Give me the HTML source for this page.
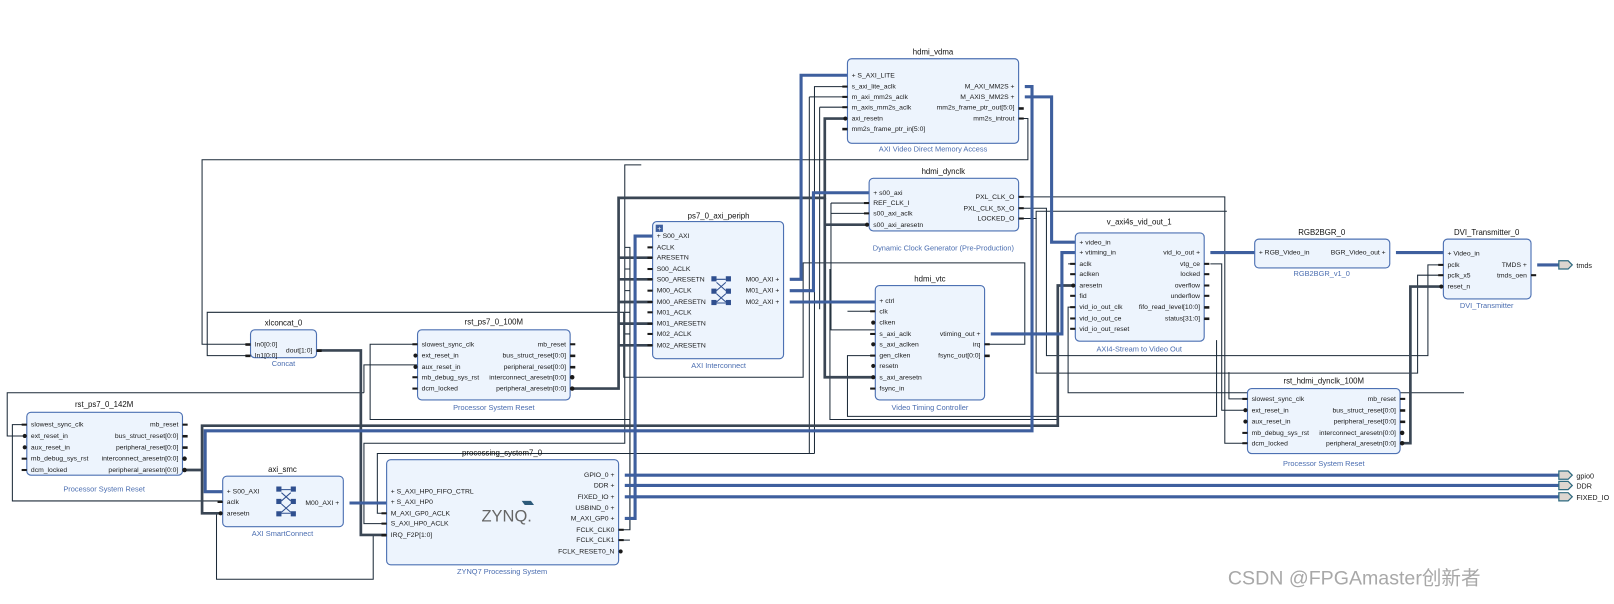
<!DOCTYPE html>
<html><head><meta charset="utf-8"><style>
html,body{margin:0;padding:0;background:#fff;width:1614px;height:604px;overflow:hidden}
svg{display:block}
text{font-family:"Liberation Sans",sans-serif}
.t{font-size:7.6px;fill:#111;text-anchor:middle}
.s{font-size:7.2px;fill:#4a6db0;text-anchor:middle}
.p{font-size:6.6px;fill:#1a1a1a}
.r{font-size:6.6px;fill:#1a1a1a;text-anchor:end}
.b{fill:#edf4fd;stroke:#4d71b3;stroke-width:1.1}
.w{fill:none;stroke:#1c2a38;stroke-width:1}
.k{fill:none;stroke:#3a4654;stroke-width:2.6}
.bus{fill:none;stroke:#3e5f9e;stroke-width:3}
.pl{fill:#1a1a1a}
.x{fill:none;stroke:#2f4f8f;stroke-width:1}
</style></head><body>
<svg width="1614" height="604" viewBox="0 0 1565.5 586" preserveAspectRatio="none" xmlns="http://www.w3.org/2000/svg">

<!-- thin wires -->
<g class="w">
<path d="M988,115 H997 V155 H196 V334 H243"/>
<path d="M243,345 H201 V303 H605 V366 H779 V255 H994 V334 H955"/>
<path d="M26,412 H12 V486 H216"/>
<path d="M26,423 H7 V381 H353"/>
<path d="M353,381 V354 H405"/>
<path d="M405,334 H359 V407 H611"/>
<path d="M611,407 V514 H600"/>
<path d="M606,240 H611 V514"/>
<path d="M606,261 H611 M606,282 H611 M606,303 H611 M606,324 H611"/>
<path d="M600,524 H611"/>
<path d="M375,508 H353 V430 H606 V160 H622"/>
<path d="M375,498 H366 V440 H790"/>
<path d="M790,440 V84 H822"/>
<path d="M785,94 H822 M785,94 V440 M795,104 H822 M795,104 V300"/>
<path d="M806,197 H843 M806,207 H843 M806,197 V320 H849"/>
<path d="M822,302 H849"/>
<path d="M805,261 V407 H1026"/>
<path d="M988,191 H1188 V430 H1210"/>
<path d="M988,202 H1015 V345 H1385 V257 H1400"/>
<path d="M988,212 H1005 V205 H1190"/>
<path d="M1005,212 V362 H1375 V267 H1400"/>
<path d="M1043,256 H1036 M1043,298 H1036 V381 H1420"/>
<path d="M1174,256 H1185 V398 H1210"/>
<path d="M1210,387 H1192 V361"/>
<path d="M849,345 H822 V404 H1180 V330"/>
<path d="M216,498 H210 V562 H362 V519"/>
<path d="M1043,277 H1026"/>
</g>
<!-- thick reset nets -->
<g class="k">
<path d="M553,377 H600 V192 H800 V115 H822"/>
<path d="M600,250 H633 M600,271 H633 M600,293 H633 M600,314 H633 M600,335 H633"/>
<path d="M800,192 V366 H849 M800,218 H843"/>
<path d="M177,456 H196 V498 H216 M196,456 V413 H1026 V277 H1043"/>
<path d="M307,340 H350 V519 H375"/>
<path d="M1358,430 H1368 V278 H1400"/>
</g>
<!-- buses -->
<g class="bus">
<path d="M606,503 H616 V229 H633"/>
<path d="M766,271 H777 V73 H822"/>
<path d="M766,282 H789 V187 H843"/>
<path d="M766,293 H849"/>
<path d="M994,84 H1001 V418 H199 V477 H216"/>
<path d="M994,94 H1020 V235 H1043"/>
<path d="M961,324 H1030 V245 H1043"/>
<path d="M1174,245 H1217"/>
<path d="M1354,245 H1400"/>
<path d="M1491,257 H1512"/>
<path d="M339,488 H375"/>
<path d="M606,461 H1512 M606,471 H1512 M606,482 H1512"/>
</g>

<!-- external ports -->
<g fill="#ddd6d0" stroke="#2e6a80" stroke-width="1.2">
<path d="M1512,253 h9 l4,4 l-4,4 h-9z"/>
<path d="M1512,457 h9 l4,4 l-4,4 h-9z"/>
<path d="M1512,467 h9 l4,4 l-4,4 h-9z"/>
<path d="M1512,478 h9 l4,4 l-4,4 h-9z"/>
</g>
<text class="p" x="1529" y="260" style="font-size:7px">tmds</text>
<text class="p" x="1529" y="464" style="font-size:7px">gpio0</text>
<text class="p" x="1529" y="474" style="font-size:7px">DDR</text>
<text class="p" x="1529" y="485" style="font-size:7px">FIXED_IO</text>

<!-- hdmi_vdma -->
<text class="t" x="905" y="53">hdmi_vdma</text>
<rect class="b" x="822" y="57" width="166" height="82" rx="4"/>
<text class="s" x="905" y="147">AXI Video Direct Memory Access</text>
<g class="p"><text x="826" y="75">+ S_AXI_LITE</text><text x="826" y="86">s_axi_lite_aclk</text><text x="826" y="96">m_axi_mm2s_aclk</text><text x="826" y="106">m_axis_mm2s_aclk</text><text x="826" y="117">axi_resetn</text><text x="826" y="127">mm2s_frame_ptr_in[5:0]</text></g>
<g class="r"><text x="984" y="86">M_AXI_MM2S +</text><text x="984" y="96">M_AXIS_MM2S +</text><text x="984" y="106">mm2s_frame_ptr_out[5:0]</text><text x="984" y="117">mm2s_introut</text></g>

<!-- hdmi_dynclk -->
<text class="t" x="915" y="169">hdmi_dynclk</text>
<rect class="b" x="843" y="173" width="145" height="51" rx="4"/>
<text class="s" x="915" y="243">Dynamic Clock Generator (Pre-Production)</text>
<g class="p"><text x="847" y="189">+ s00_axi</text><text x="847" y="199">REF_CLK_I</text><text x="847" y="209">s00_axi_aclk</text><text x="847" y="220">s00_axi_aresetn</text></g>
<g class="r"><text x="984" y="193">PXL_CLK_O</text><text x="984" y="204">PXL_CLK_5X_O</text><text x="984" y="214">LOCKED_O</text></g>

<!-- ps7_0_axi_periph -->
<text class="t" x="697" y="212">ps7_0_axi_periph</text>
<rect class="b" x="633" y="215" width="127" height="133" rx="4"/>
<rect x="636" y="218" width="7" height="7" fill="#3e5f9e"/><text x="639.5" y="224" style="font-size:7px;fill:#fff;text-anchor:middle">+</text>
<text class="s" x="697" y="357">AXI Interconnect</text>
<g class="p"><text x="637" y="231">+ S00_AXI</text><text x="637" y="242">ACLK</text><text x="637" y="252">ARESETN</text><text x="637" y="263">S00_ACLK</text><text x="637" y="273">S00_ARESETN</text><text x="637" y="284">M00_ACLK</text><text x="637" y="295">M00_ARESETN</text><text x="637" y="305">M01_ACLK</text><text x="637" y="316">M01_ARESETN</text><text x="637" y="326">M02_ACLK</text><text x="637" y="337">M02_ARESETN</text></g>
<g class="r"><text x="756" y="273">M00_AXI +</text><text x="756" y="284">M01_AXI +</text><text x="756" y="295">M02_AXI +</text></g>
<g fill="#2f4f8f"><rect x="690" y="268" width="5" height="5"/><rect x="704" y="268" width="5" height="5"/><rect x="690" y="280" width="5" height="5"/><rect x="704" y="280" width="5" height="5"/><rect x="690" y="291" width="5" height="5"/><rect x="704" y="291" width="5" height="5"/></g>
<path class="x" d="M695,271 H704 M695,274 L704,282 M704,274 L695,282 M695,285 L704,293 M704,285 L695,293 M695,294 H704"/>

<!-- hdmi_vtc -->
<text class="t" x="902" y="273">hdmi_vtc</text>
<rect class="b" x="849" y="277" width="106" height="111" rx="4"/>
<text class="s" x="902" y="398">Video Timing Controller</text>
<g class="p"><text x="853" y="294">+ ctrl</text><text x="853" y="304">clk</text><text x="853" y="315">clken</text><text x="853" y="326">s_axi_aclk</text><text x="853" y="336">s_axi_aclken</text><text x="853" y="347">gen_clken</text><text x="853" y="357">resetn</text><text x="853" y="368">s_axi_aresetn</text><text x="853" y="379">fsync_in</text></g>
<g class="r"><text x="951" y="326">vtiming_out +</text><text x="951" y="336">irq</text><text x="951" y="347">fsync_out[0:0]</text></g>

<!-- v_axi4s_vid_out_1 -->
<text class="t" x="1105" y="218">v_axi4s_vid_out_1</text>
<rect class="b" x="1043" y="226" width="125" height="105" rx="4"/>
<text class="s" x="1105" y="341">AXI4-Stream to Video Out</text>
<g class="p"><text x="1047" y="237">+ video_in</text><text x="1047" y="247">+ vtiming_in</text><text x="1047" y="258">aclk</text><text x="1047" y="268">aclken</text><text x="1047" y="279">aresetn</text><text x="1047" y="289">fid</text><text x="1047" y="300">vid_io_out_clk</text><text x="1047" y="311">vid_io_out_ce</text><text x="1047" y="321">vid_io_out_reset</text></g>
<g class="r"><text x="1164" y="247">vid_io_out +</text><text x="1164" y="258">vtg_ce</text><text x="1164" y="268">locked</text><text x="1164" y="279">overflow</text><text x="1164" y="289">underflow</text><text x="1164" y="300">fifo_read_level[10:0]</text><text x="1164" y="311">status[31:0]</text></g>

<!-- RGB2BGR -->
<text class="t" x="1282" y="228">RGB2BGR_0</text>
<rect class="b" x="1217" y="232" width="131" height="28" rx="4"/>
<text class="s" x="1282" y="268">RGB2BGR_v1_0</text>
<text class="p" x="1221" y="247">+ RGB_Video_in</text><text class="r" x="1344" y="247">BGR_Video_out +</text>

<!-- DVI -->
<text class="t" x="1442" y="228">DVI_Transmitter_0</text>
<rect class="b" x="1400" y="232" width="85" height="58" rx="4"/>
<text class="s" x="1442" y="299">DVI_Transmitter</text>
<g class="p"><text x="1404" y="248">+ Video_in</text><text x="1404" y="259">pclk</text><text x="1404" y="269">pclk_x5</text><text x="1404" y="280">reset_n</text></g>
<g class="r"><text x="1481" y="259">TMDS +</text><text x="1481" y="269">tmds_oen</text></g>

<!-- xlconcat -->
<text class="t" x="275" y="316">xlconcat_0</text>
<rect class="b" x="243" y="320" width="64" height="27" rx="4"/>
<text class="s" x="275" y="355">Concat</text>
<text class="p" x="247" y="336">In0[0:0]</text><text class="p" x="247" y="347">In1[0:0]</text><text class="r" x="303" y="342">dout[1:0]</text>

<!-- rst_ps7_0_100M -->
<text class="t" x="479" y="315">rst_ps7_0_100M</text>
<rect class="b" x="405" y="320" width="148" height="68" rx="4"/>
<text class="s" x="479" y="398">Processor System Reset</text>
<g class="p"><text x="409" y="336">slowest_sync_clk</text><text x="409" y="347">ext_reset_in</text><text x="409" y="358">aux_reset_in</text><text x="409" y="368">mb_debug_sys_rst</text><text x="409" y="379">dcm_locked</text></g>
<g class="r"><text x="549" y="336">mb_reset</text><text x="549" y="347">bus_struct_reset[0:0]</text><text x="549" y="358">peripheral_reset[0:0]</text><text x="549" y="368">interconnect_aresetn[0:0]</text><text x="549" y="379">peripheral_aresetn[0:0]</text></g>

<!-- rst_ps7_0_142M -->
<text class="t" x="101" y="395">rst_ps7_0_142M</text>
<rect class="b" x="26" y="400" width="151" height="61" rx="4"/>
<text class="s" x="101" y="477">Processor System Reset</text>
<g class="p"><text x="30" y="414">slowest_sync_clk</text><text x="30" y="425">ext_reset_in</text><text x="30" y="436">aux_reset_in</text><text x="30" y="447">mb_debug_sys_rst</text><text x="30" y="458">dcm_locked</text></g>
<g class="r"><text x="173" y="414">mb_reset</text><text x="173" y="425">bus_struct_reset[0:0]</text><text x="173" y="436">peripheral_reset[0:0]</text><text x="173" y="447">interconnect_aresetn[0:0]</text><text x="173" y="458">peripheral_aresetn[0:0]</text></g>

<!-- axi_smc -->
<text class="t" x="274" y="458">axi_smc</text>
<rect class="b" x="216" y="462" width="117" height="49" rx="4"/>
<text class="s" x="274" y="520">AXI SmartConnect</text>
<text class="p" x="220" y="479">+ S00_AXI</text><text class="p" x="220" y="489">aclk</text><text class="p" x="220" y="500">aresetn</text>
<text class="r" x="329" y="490">M00_AXI +</text>
<g fill="#2f4f8f"><rect x="268" y="472" width="5" height="5"/><rect x="282" y="472" width="5" height="5"/><rect x="268" y="484" width="5" height="5"/><rect x="282" y="484" width="5" height="5"/><rect x="268" y="496" width="5" height="5"/><rect x="282" y="496" width="5" height="5"/></g>
<path class="x" d="M273,475 H282 M273,478 L282,486 M282,478 L273,486 M273,489 L282,497 M282,489 L273,497 M273,498 H282"/>

<!-- processing_system7_0 -->
<text class="t" x="487" y="442">processing_system7_0</text>
<rect class="b" x="375" y="446" width="225" height="102" rx="4"/>
<text class="s" x="487" y="557">ZYNQ7 Processing System</text>
<g class="p"><text x="379" y="479">+ S_AXI_HP0_FIFO_CTRL</text><text x="379" y="489">+ S_AXI_HP0</text><text x="379" y="500">M_AXI_GP0_ACLK</text><text x="379" y="510">S_AXI_HP0_ACLK</text><text x="379" y="521">IRQ_F2P[1:0]</text></g>
<g class="r"><text x="596" y="463">GPIO_0 +</text><text x="596" y="473">DDR +</text><text x="596" y="484">FIXED_IO +</text><text x="596" y="495">USBIND_0 +</text><text x="596" y="505">M_AXI_GP0 +</text><text x="596" y="516">FCLK_CLK0</text><text x="596" y="526">FCLK_CLK1</text><text x="596" y="537">FCLK_RESET0_N</text></g>
<text x="467" y="506" style="font-size:16px;fill:#666">ZYNQ.</text>
<path d="M506,486 l9,0 l3,4 l-9,0z" fill="#2c5a7a"/>

<!-- rst_hdmi_dynclk_100M -->
<text class="t" x="1284" y="372">rst_hdmi_dynclk_100M</text>
<rect class="b" x="1210" y="377" width="148" height="63" rx="4"/>
<text class="s" x="1284" y="452">Processor System Reset</text>
<g class="p"><text x="1214" y="389">slowest_sync_clk</text><text x="1214" y="400">ext_reset_in</text><text x="1214" y="411">aux_reset_in</text><text x="1214" y="422">mb_debug_sys_rst</text><text x="1214" y="432">dcm_locked</text></g>
<g class="r"><text x="1354" y="389">mb_reset</text><text x="1354" y="400">bus_struct_reset[0:0]</text><text x="1354" y="411">peripheral_reset[0:0]</text><text x="1354" y="422">interconnect_aresetn[0:0]</text><text x="1354" y="432">peripheral_aresetn[0:0]</text></g>

<!-- port stubs -->
<g class="pl">
<rect x="817" y="83" width="5" height="2"/><rect x="817" y="93" width="5" height="2"/><rect x="817" y="103" width="5" height="2"/><circle cx="820" cy="115" r="2"/><rect x="817" y="124" width="5" height="2.5"/>
<rect x="988" y="104" width="5" height="2.5"/><rect x="988" y="114" width="5" height="2"/>
<rect x="838" y="196" width="5" height="2"/><rect x="838" y="206" width="5" height="2"/><circle cx="841" cy="218" r="2"/>
<rect x="988" y="190" width="5" height="2"/><rect x="988" y="201" width="5" height="2"/><rect x="988" y="211" width="5" height="2"/>
<rect x="628" y="239" width="5" height="2"/><rect x="628" y="249" width="5" height="2"/><rect x="628" y="260" width="5" height="2"/><rect x="628" y="270" width="5" height="2"/><rect x="628" y="281" width="5" height="2"/><rect x="628" y="292" width="5" height="2"/><rect x="628" y="302" width="5" height="2"/><rect x="628" y="313" width="5" height="2"/><rect x="628" y="323" width="5" height="2"/><rect x="628" y="334" width="5" height="2"/>
<rect x="844" y="301" width="5" height="2"/><circle cx="847" cy="313" r="2"/><rect x="844" y="323" width="5" height="2"/><circle cx="847" cy="334" r="2"/><rect x="844" y="344" width="5" height="2"/><circle cx="847" cy="355" r="2"/><circle cx="847" cy="366" r="2"/><rect x="844" y="376" width="5" height="2"/>
<rect x="955" y="333" width="5" height="2"/><rect x="955" y="344" width="5" height="2.5"/>
<rect x="1038" y="255" width="5" height="2"/><rect x="1038" y="265" width="5" height="2"/><circle cx="1041" cy="277" r="2"/><rect x="1038" y="286" width="5" height="2"/><rect x="1038" y="297" width="5" height="2"/><rect x="1038" y="308" width="5" height="2"/><rect x="1038" y="318" width="5" height="2"/>
<rect x="1168" y="255" width="5" height="2"/><rect x="1168" y="265" width="5" height="2"/><rect x="1168" y="276" width="5" height="2"/><rect x="1168" y="286" width="5" height="2"/><rect x="1168" y="297" width="5" height="2.5"/><rect x="1168" y="308" width="5" height="2.5"/>
<rect x="1395" y="256" width="5" height="2"/><rect x="1395" y="266" width="5" height="2"/><circle cx="1398" cy="278" r="2"/><rect x="1485" y="266" width="5" height="2"/>
<rect x="238" y="333" width="5" height="2.5"/><rect x="238" y="344" width="5" height="2.5"/><rect x="307" y="339" width="5" height="2.5"/>
<rect x="400" y="333" width="5" height="2"/><circle cx="403" cy="345" r="2"/><circle cx="403" cy="356" r="2"/><rect x="400" y="365" width="5" height="2"/><rect x="400" y="376" width="5" height="2"/>
<rect x="553" y="333" width="5" height="2"/><rect x="553" y="344" width="5" height="2.5"/><rect x="553" y="355" width="5" height="2.5"/><circle cx="555" cy="366" r="2.2"/><circle cx="555" cy="377" r="2.2"/>
<rect x="21" y="411" width="5" height="2"/><circle cx="24" cy="423" r="2"/><circle cx="24" cy="434" r="2"/><rect x="21" y="444" width="5" height="2"/><rect x="21" y="455" width="5" height="2"/>
<rect x="177" y="411" width="5" height="2"/><rect x="177" y="422" width="5" height="2.5"/><rect x="177" y="433" width="5" height="2.5"/><circle cx="179" cy="445" r="2.2"/><circle cx="179" cy="456" r="2.2"/>
<rect x="211" y="486" width="5" height="2"/><circle cx="214" cy="498" r="2"/>
<rect x="370" y="497" width="5" height="2"/><rect x="370" y="507" width="5" height="2"/><rect x="370" y="518" width="5" height="2.5"/>
<rect x="600" y="513" width="5" height="2"/><rect x="600" y="523" width="5" height="2"/><circle cx="602" cy="535" r="2"/>
<rect x="1205" y="386" width="5" height="2"/><circle cx="1208" cy="398" r="2"/><circle cx="1208" cy="409" r="2"/><rect x="1205" y="419" width="5" height="2"/><rect x="1205" y="429" width="5" height="2"/>
<rect x="1358" y="386" width="5" height="2"/><rect x="1358" y="397" width="5" height="2.5"/><rect x="1358" y="408" width="5" height="2.5"/><circle cx="1360" cy="420" r="2.2"/><circle cx="1360" cy="430" r="2.2"/>
</g>

<text x="1191" y="567" style="font-family:'Liberation Sans','Noto Sans CJK SC',sans-serif;font-size:19px;fill:#a8a8a8">CSDN @FPGAmaster创新者</text>
</svg>
</body></html>
